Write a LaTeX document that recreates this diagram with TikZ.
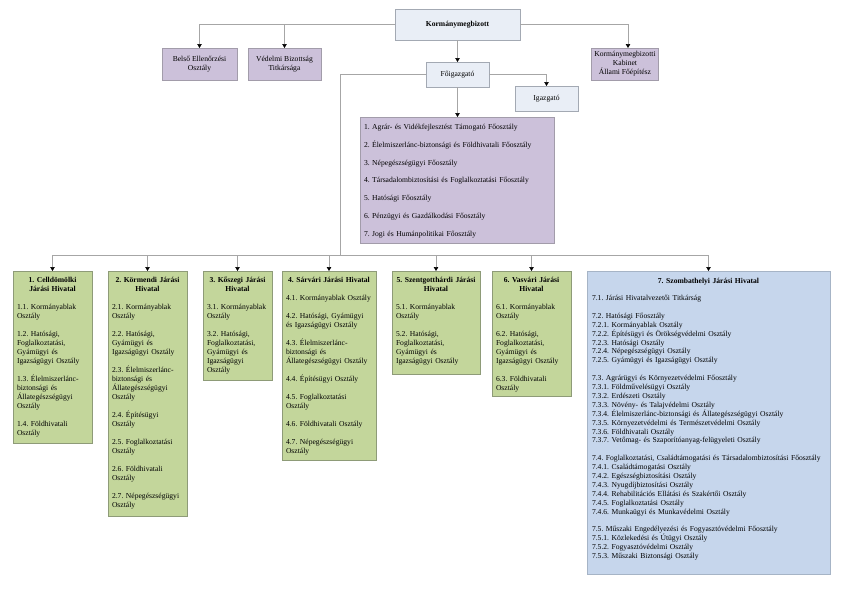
\documentclass[tikz,border=0pt]{standalone}
\usepackage{fontspec}
\setmainfont{Liberation Serif}
\usetikzlibrary{arrows.meta}
\frenchspacing
\definecolor{linegray}{HTML}{A6A6A6}
\definecolor{lightfill}{HTML}{E9EEF6}
\definecolor{lightedge}{HTML}{A3A9B3}
\definecolor{purplefill}{HTML}{CCC1DA}
\definecolor{purpleedge}{HTML}{A29CAA}
\definecolor{greenfill}{HTML}{C3D69B}
\definecolor{greenedge}{HTML}{8E9B78}
\definecolor{bluefill}{HTML}{C6D6EC}
\definecolor{blueedge}{HTML}{A6B4C6}
\begin{document}
\begin{tikzpicture}[x=1pt,y=-1pt,
  every node/.style={inner sep=0pt, outer sep=0pt},
  boxbase/.style={draw, line width=0.6pt, inner sep=0pt, align=center, font=\fontsize{7.6}{9}\selectfont},
  lightbox/.style={boxbase, fill=lightfill, draw=lightedge},
  purplebox/.style={boxbase, fill=purplefill, draw=purpleedge},
  greenbox/.style={boxbase, fill=greenfill, draw=greenedge},
  bluebox/.style={boxbase, fill=bluefill, draw=blueedge},
  titletext/.style={anchor=base, text width=200pt, align=center, font=\fontsize{7.6}{9}\selectfont\bfseries},
  bodytext/.style={anchor=base west, text width=250pt, align=left, font=\fontsize{7.6}{9}\selectfont},
  conn/.style={draw=linegray, line width=0.6pt, -{Triangle[width=4.5pt,length=4pt,color=black]}},
  plain/.style={draw=linegray, line width=0.6pt}
]
\fill[white] (0,0) rectangle (849,590);
\useasboundingbox (0,0) rectangle (849,590);

% top level
\node[lightbox, minimum width=125pt, minimum height=31pt, font=\fontsize{7.6}{9}\selectfont\bfseries] (km) at (457.5,24.5) {Kormánymegbizott};
\node[purplebox, minimum width=75pt, minimum height=32pt] (belso) at (199.5,64) {Belső Ellenőrzési\\Osztály};
\node[purplebox, minimum width=73pt, minimum height=32pt] (vedelmi) at (284.5,64) {Védelmi Bizottság\\Titkársága};
\node[purplebox, minimum width=67pt, minimum height=32pt] (kabinet) at (625,64) {Kormánymegbizotti\\Kabinet\\Állami Főépítész};
\node[lightbox, minimum width=63pt, minimum height=25pt] (foig) at (457.5,74.5) {Főigazgató};
\node[lightbox, minimum width=63pt, minimum height=25pt] (igaz) at (546.5,98.5) {Igazgató};

% Foosztalyok
\node[purplebox, minimum width=194pt, minimum height=126pt] (fo) at (457.5,180) {};
\node[bodytext, font=\fontsize{7.6}{8.9}\selectfont] (fot) at (364,129.5) {1. Agrár- és Vidékfejlesztést Támogató Főosztály\\[8.9pt]2. Élelmiszerlánc-biztonsági és Földhivatali Főosztály\\[8.9pt]3. Népegészségügyi Főosztály\\[8.9pt]4. Társadalombiztosítási és Foglalkoztatási Főosztály\\[8.9pt]5. Hatósági Főosztály\\[8.9pt]6. Pénzügyi és Gazdálkodási Főosztály\\[8.9pt]7. Jogi és Humánpolitikai Főosztály};

% district boxes
\node[greenbox, minimum width=79pt, minimum height=172pt] (b1) at (52.5,357) {};
\node[titletext] (b1t) at (52.5,282) {1. Celldömölki\\Járási Hivatal};
\node[bodytext] (b1b) at (17,309) {1.1. Kormányablak\\Osztály\\[9pt]1.2. Hatósági,\\Foglalkoztatási,\\Gyámügyi és\\Igazságügyi Osztály\\[9pt]1.3. Élelmiszerlánc-\\biztonsági és\\Állategészségügyi\\Osztály\\[9pt]1.4. Földhivatali\\Osztály};

\node[greenbox, minimum width=79pt, minimum height=245pt] (b2) at (147.5,393.5) {};
\node[titletext] (b2t) at (147.5,282) {2. Körmendi Járási\\Hivatal};
\node[bodytext] (b2b) at (112,309) {2.1. Kormányablak\\Osztály\\[9pt]2.2. Hatósági,\\Gyámügyi és\\Igazságügyi Osztály\\[9pt]2.3. Élelmiszerlánc-\\biztonsági és\\Állategészségügyi\\Osztály\\[9pt]2.4. Építésügyi\\Osztály\\[9pt]2.5. Foglalkoztatási\\Osztály\\[9pt]2.6. Földhivatali\\Osztály\\[9pt]2.7. Népegészségügyi\\Osztály};

\node[greenbox, minimum width=69pt, minimum height=109pt] (b3) at (237.5,325.5) {};
\node[titletext] (b3t) at (237.5,282) {3. Kőszegi Járási\\Hivatal};
\node[bodytext] (b3b) at (207,309) {3.1. Kormányablak\\Osztály\\[9pt]3.2. Hatósági,\\Foglalkoztatási,\\Gyámügyi és\\Igazságügyi\\Osztály};

\node[greenbox, minimum width=94pt, minimum height=189pt] (b4) at (329,365.5) {};
\node[titletext] (b4t) at (329,282) {4. Sárvári Járási Hivatal};
\node[bodytext] (b4b) at (286,300) {4.1. Kormányablak Osztály\\[9pt]4.2. Hatósági, Gyámügyi\\és Igazságügyi Osztály\\[9pt]4.3. Élelmiszerlánc-\\biztonsági és\\Állategészségügyi Osztály\\[9pt]4.4. Építésügyi Osztály\\[9pt]4.5. Foglalkoztatási\\Osztály\\[9pt]4.6. Földhivatali Osztály\\[9pt]4.7. Népegészségügyi\\Osztály};

\node[greenbox, minimum width=88pt, minimum height=103pt] (b5) at (436,322.5) {};
\node[titletext] (b5t) at (436,282) {5. Szentgotthárdi Járási\\Hivatal};
\node[bodytext] (b5b) at (396,309) {5.1. Kormányablak\\Osztály\\[9pt]5.2. Hatósági,\\Foglalkoztatási,\\Gyámügyi és\\Igazságügyi Osztály};

\node[greenbox, minimum width=79pt, minimum height=125pt] (b6) at (531.5,333.5) {};
\node[titletext] (b6t) at (531.5,282) {6. Vasvári Járási\\Hivatal};
\node[bodytext] (b6b) at (496,309) {6.1. Kormányablak\\Osztály\\[9pt]6.2. Hatósági,\\Foglalkoztatási,\\Gyámügyi és\\Igazságügyi Osztály\\[9pt]6.3. Földhivatali\\Osztály};

\node[bluebox, minimum width=243pt, minimum height=303pt] (b7) at (708.5,422.5) {};
\node[titletext] (b7t) at (708.5,283.5) {7. Szombathelyi Járási Hivatal};
\node[bodytext, font=\fontsize{7.6}{8.9}\selectfont] (b7b) at (592,300.5) {7.1. Járási Hivatalvezetői Titkárság\\[8.9pt]
7.2. Hatósági Főosztály\\
7.2.1. Kormányablak Osztály\\
7.2.2. Építésügyi és Örökségvédelmi Osztály\\
7.2.3. Hatósági Osztály\\
7.2.4. Népegészségügyi Osztály\\
7.2.5. Gyámügyi és Igazságügyi Osztály\\[8.9pt]
7.3. Agrárügyi és Környezetvédelmi Főosztály\\
7.3.1. Földművelésügyi Osztály\\
7.3.2. Erdészeti Osztály\\
7.3.3. Növény- és Talajvédelmi Osztály\\
7.3.4. Élelmiszerlánc-biztonsági és Állategészségügyi Osztály\\
7.3.5. Környezetvédelmi és Természetvédelmi Osztály\\
7.3.6. Földhivatali Osztály\\
7.3.7. Vetőmag- és Szaporítóanyag-felügyeleti Osztály\\[8.9pt]
7.4. Foglalkoztatási, Családtámogatási és Társadalombiztosítási Főosztály\\
7.4.1. Családtámogatási Osztály\\
7.4.2. Egészségbiztosítási Osztály\\
7.4.3. Nyugdíjbiztosítási Osztály\\
7.4.4. Rehabilitációs Ellátási és Szakértői Osztály\\
7.4.5. Foglalkoztatási Osztály\\
7.4.6. Munkaügyi és Munkavédelmi Osztály\\[8.9pt]
7.5. Műszaki Engedélyezési és Fogyasztóvédelmi Főosztály\\
7.5.1. Közlekedési és Útügyi Osztály\\
7.5.2. Fogyasztóvédelmi Osztály\\
7.5.3. Műszaki Biztonsági Osztály};

% connectors
\draw[conn] (km.west) -| (belso.north);
\draw[conn] (km.west) -| (vedelmi.north);
\draw[conn] (km.east) -| ([xshift=3pt]kabinet.north);
\draw[conn] (km.south) -- (foig.north);
\draw[conn] (foig.south) -- (fo.north);
\draw[conn] (foig.east) -| (igaz.north);
\coordinate (bus) at (340,255);
\draw[plain] (foig.west) -| (bus);
\foreach \b in {b1,b2,b3,b4,b5,b6,b7} \draw[conn] (bus) -| (\b.north);
\end{tikzpicture}
\end{document}
